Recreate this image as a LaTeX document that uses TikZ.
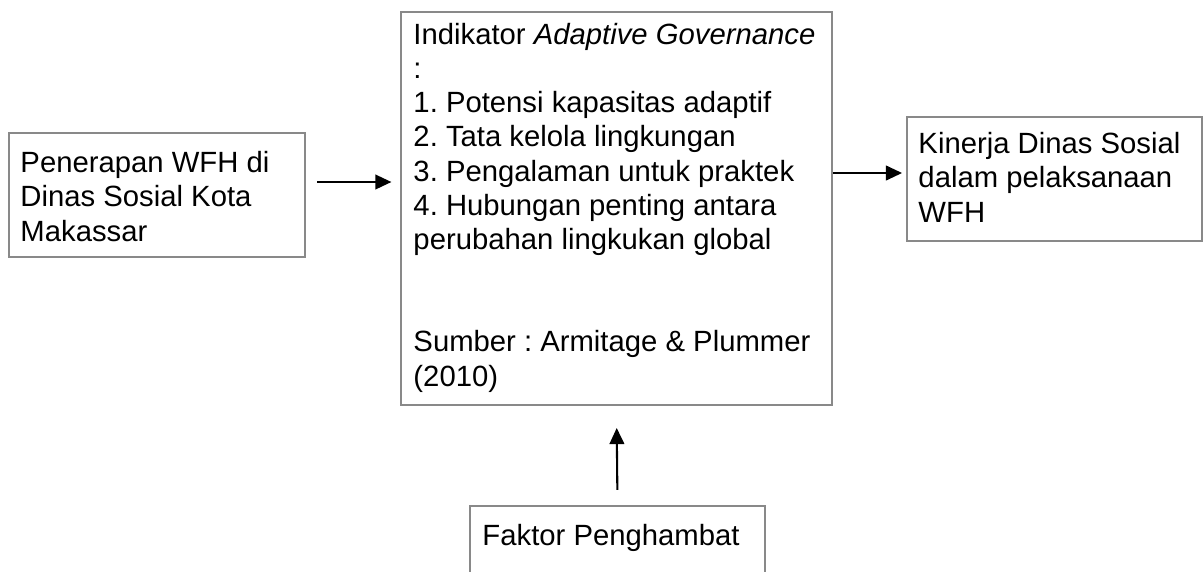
\documentclass[tikz,border=0pt]{standalone}
\usepackage{fontspec}
\setmainfont{Liberation Sans}
\usetikzlibrary{fit,arrows.meta}
\definecolor{boxgray}{HTML}{898989}
\frenchspacing
\begin{document}
\begin{tikzpicture}[x=0.41pt,y=-0.41pt,
  box/.style={draw=boxgray,line width=0.85pt,inner sep=0pt},
  txt/.style={anchor=base west,inner sep=0pt,align=left,font=\fontsize{12}{14}\selectfont},
  arr/.style={-{Triangle[length=6.6pt,width=6pt]},line width=0.85pt}]
\useasboundingbox (0,0) rectangle (1204,571);
\clip (0,0) rectangle (1204,571);
% boxes
\node[box,fit={(9,133) (305,257)}] (left) {};
\node[box,fit={(401,12) (832,405)}] (center) {};
\node[box,fit={(907,117) (1202,241)}] (right) {};
\node[box,fit={(470,506) (765,620)}] (bottom) {};
% texts (anchored at the baseline of the last line)
\node[txt] (lefttext) at (20,241) {Penerapan WFH di\\Dinas Sosial Kota\\Makassar};
\node[txt] (centertext) at (413,386) {Indikator \textit{Adaptive Governance}\\:\\1. Potensi kapasitas adaptif\\2. Tata kelola lingkungan\\3. Pengalaman untuk praktek\\4. Hubungan penting antara\\perubahan lingkukan global\\\mbox{}\\\mbox{}\\Sumber : Armitage \& Plummer\\(2010)};
\node[txt] (righttext) at (918,222) {Kinerja Dinas Sosial\\dalam pelaksanaan\\WFH};
\node[txt] (bottomtext) at (482,545) {Faktor Penghambat};
% connectors
\draw[arr,shorten <=4.5pt,shorten >=3.5pt] (left.east |- 0,182) -- (center.west |- 0,182);
\draw[arr,shorten >=1.6pt] (center.east |- 0,173) -- (right.west |- 0,173);
\draw[arr,shorten <=6.2pt,shorten >=9pt] (bottom.north) -- (center.south);
\end{tikzpicture}
\end{document}
